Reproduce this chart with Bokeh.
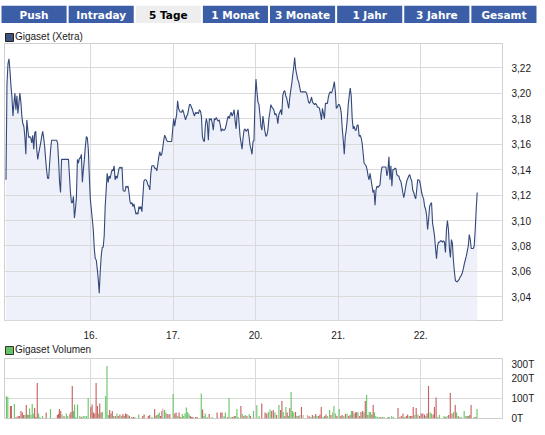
from bokeh.plotting import figure
from bokeh.models import (Range1d, FixedTicker, CustomJSTickFormatter, Legend,
                          LegendItem, ColumnDataSource, FactorRange)
from bokeh.layouts import column
from bokeh.embed import file_html
from bokeh.resources import INLINE
from bokeh.core.properties import value

# ---------------- data ----------------
tabs = ["Push", "Intraday", "5 Tage", "1 Monat", "3 Monate", "1 Jahr", "3 Jahre", "Gesamt"]
active_tab = "5 Tage"

day_ticks = [1, 2, 3, 4, 5]
day_labels = ["16.", "17.", "20.", "21.", "22."]
price_ticks = [3.04, 3.06, 3.08, 3.10, 3.12, 3.14, 3.16, 3.18, 3.20, 3.22]
vol_ticks = [0, 100, 200, 300]

price_name = "Gigaset (Xetra)"
vol_name = "Gigaset Volumen"

# price series on a regular intraday time grid (x in trading-day units)
t_start = -0.024
samples_per_day = 83.2
prices = [
    3.132, 3.207, 3.223, 3.227, 3.218, 3.206, 3.197, 3.182, 3.192, 3.200,
    3.187, 3.198, 3.184, 3.192, 3.200, 3.193, 3.182, 3.176, 3.174, 3.166,
    3.152, 3.179, 3.171, 3.165, 3.166, 3.165, 3.161, 3.167, 3.156, 3.169,
    3.170, 3.156, 3.148, 3.153, 3.157, 3.161, 3.166, 3.170, 3.165, 3.158,
    3.148, 3.139, 3.133, 3.133, 3.145, 3.156, 3.163, 3.163, 3.163, 3.163,
    3.163, 3.163, 3.161, 3.148, 3.130, 3.122, 3.148, 3.148, 3.148, 3.148,
    3.148, 3.148, 3.148, 3.148, 3.135, 3.122, 3.114, 3.114, 3.119, 3.102,
    3.109, 3.118, 3.148, 3.145, 3.149, 3.149, 3.152, 3.130, 3.140, 3.148,
    3.158, 3.166, 3.165, 3.156, 3.135, 3.117, 3.109, 3.101, 3.093, 3.078,
    3.070, 3.069, 3.062, 3.054, 3.043, 3.060, 3.072, 3.079, 3.079, 3.088,
    3.111, 3.124, 3.137, 3.130, 3.135, 3.133, 3.137, 3.140, 3.139, 3.143,
    3.132, 3.135, 3.133, 3.137, 3.141, 3.142, 3.141, 3.142, 3.124, 3.123,
    3.123, 3.127, 3.126, 3.127, 3.122, 3.115, 3.113, 3.114, 3.111, 3.113,
    3.109, 3.105, 3.106, 3.105, 3.111, 3.109, 3.111, 3.107, 3.119, 3.131,
    3.132, 3.132, 3.131, 3.128, 3.127, 3.124, 3.137, 3.143, 3.143, 3.143,
    3.141, 3.141, 3.139, 3.144, 3.150, 3.154, 3.151, 3.152, 3.157, 3.163,
    3.167, 3.165, 3.163, 3.162, 3.162, 3.162, 3.162, 3.162, 3.171, 3.180,
    3.174, 3.179, 3.183, 3.194, 3.188, 3.186, 3.185, 3.185, 3.187, 3.185,
    3.182, 3.179, 3.182, 3.183, 3.187, 3.191, 3.191, 3.189, 3.187, 3.184,
    3.182, 3.185, 3.184, 3.185, 3.184, 3.187, 3.186, 3.182, 3.166, 3.163,
    3.162, 3.175, 3.180, 3.176, 3.163, 3.180, 3.179, 3.180, 3.176, 3.171,
    3.180, 3.179, 3.181, 3.179, 3.178, 3.179, 3.175, 3.170, 3.172, 3.171,
    3.171, 3.172, 3.175, 3.179, 3.182, 3.180, 3.183, 3.185, 3.182, 3.184,
    3.187, 3.178, 3.172, 3.183, 3.187, 3.176, 3.166, 3.161, 3.156, 3.165,
    3.171, 3.172, 3.170, 3.171, 3.172, 3.166, 3.159, 3.156, 3.152, 3.162,
    3.163, 3.194, 3.211, 3.201, 3.193, 3.191, 3.183, 3.174, 3.171, 3.182,
    3.176, 3.170, 3.166, 3.167, 3.171, 3.180, 3.185, 3.191, 3.189, 3.188,
    3.187, 3.183, 3.184, 3.182, 3.176, 3.183, 3.185, 3.187, 3.183, 3.198,
    3.201, 3.202, 3.198, 3.196, 3.192, 3.188, 3.196, 3.202, 3.207, 3.214,
    3.220, 3.228, 3.219, 3.215, 3.211, 3.209, 3.205, 3.201, 3.201, 3.201,
    3.201, 3.201, 3.201, 3.200, 3.197, 3.193, 3.192, 3.194, 3.197, 3.193,
    3.192, 3.191, 3.192, 3.191, 3.189, 3.189, 3.188, 3.184, 3.179, 3.188,
    3.184, 3.180, 3.192, 3.192, 3.192, 3.197, 3.200, 3.201, 3.200, 3.202,
    3.205, 3.209, 3.201, 3.188, 3.189, 3.191, 3.191, 3.189, 3.184, 3.172,
    3.163, 3.152, 3.166, 3.171, 3.179, 3.191, 3.198, 3.204, 3.198, 3.180,
    3.172, 3.174, 3.171, 3.171, 3.175, 3.175, 3.166, 3.167, 3.165, 3.161,
    3.153, 3.145, 3.144, 3.143, 3.140, 3.135, 3.132, 3.137, 3.132, 3.127,
    3.122, 3.124, 3.112, 3.124, 3.127, 3.126, 3.127, 3.128, 3.137, 3.142,
    3.142, 3.142, 3.142, 3.142, 3.135, 3.139, 3.150, 3.132, 3.143, 3.127,
    3.140, 3.140, 3.141, 3.141, 3.136, 3.135, 3.135, 3.132, 3.131, 3.127,
    3.122, 3.118, 3.122, 3.127, 3.131, 3.133, 3.135, 3.136, 3.133, 3.131,
    3.124, 3.122, 3.119, 3.117, 3.124, 3.132, 3.132, 3.131, 3.127, 3.122,
    3.119, 3.117, 3.111, 3.109, 3.104, 3.093, 3.101, 3.111, 3.113, 3.114,
    3.098, 3.093, 3.088, 3.078, 3.070, 3.080, 3.083, 3.083, 3.084, 3.084,
    3.083, 3.084, 3.083, 3.075, 3.093, 3.100, 3.093, 3.078, 3.071, 3.085,
    3.082, 3.069, 3.060, 3.053, 3.052, 3.052, 3.053, 3.054, 3.056, 3.057,
    3.059, 3.062, 3.066, 3.069, 3.072, 3.076, 3.080, 3.089, 3.085, 3.078,
    3.078, 3.078, 3.080, 3.093, 3.109, 3.122,
]

# volume bars: time (trading-day units), volume (thousands), direction
vol_t = [
    -0.018, -0.002, 0.030, 0.042, 0.078, 0.098, 0.122, 0.138, 0.158, 0.174,
    0.190, 0.206, 0.222, 0.238, 0.254, 0.262, 0.278, 0.294, 0.306, 0.323,
    0.339, 0.355, 0.371, 0.387, 0.419, 0.463, 0.515, 0.599, 0.611, 0.623,
    0.639, 0.655, 0.679, 0.707, 0.723, 0.751, 0.763, 0.779, 0.795, 0.807,
    0.823, 0.843, 0.871, 0.891, 0.911, 0.931, 0.952, 0.972,
    1.004, 1.020, 1.036, 1.052, 1.068, 1.084, 1.100, 1.112, 1.128, 1.144,
    1.184, 1.200, 1.216, 1.232, 1.248, 1.264, 1.280, 1.300, 1.320, 1.336,
    1.356, 1.376, 1.392, 1.408, 1.424, 1.440, 1.456, 1.472, 1.500, 1.520,
    1.536, 1.584, 1.633, 1.649, 1.701, 1.717, 1.745, 1.777, 1.793, 1.805,
    1.821, 1.833, 1.849, 1.865, 1.877, 1.897, 1.913, 1.929, 1.945, 1.961,
    2.001, 2.021, 2.037, 2.057, 2.073, 2.093, 2.113, 2.129, 2.145, 2.161,
    2.177, 2.194, 2.210, 2.226, 2.242, 2.274, 2.290, 2.342, 2.358, 2.374,
    2.390, 2.414, 2.438, 2.474, 2.534, 2.578, 2.594, 2.618, 2.634, 2.662,
    2.678, 2.702, 2.722, 2.742, 2.758, 2.774, 2.790, 2.822, 2.838, 2.858,
    2.875, 2.895, 2.923, 2.939, 2.975,
    3.015, 3.043, 3.075, 3.115, 3.135, 3.155, 3.175, 3.195, 3.215, 3.235,
    3.255, 3.283, 3.303, 3.319, 3.335, 3.355, 3.367, 3.383, 3.399, 3.415,
    3.431, 3.447, 3.463, 3.484, 3.500, 3.516, 3.536, 3.556, 3.576, 3.628,
    3.648, 3.668, 3.688, 3.708, 3.728, 3.744, 3.764, 3.780, 3.796, 3.816,
    3.837, 3.853, 3.873, 3.897, 3.913, 3.933, 3.949, 3.969, 3.985,
    4.013, 4.033, 4.049, 4.069, 4.089, 4.109, 4.129, 4.145, 4.161, 4.177,
    4.193, 4.209, 4.225, 4.241, 4.261, 4.277, 4.297, 4.313, 4.329, 4.345,
    4.361, 4.377, 4.393, 4.409, 4.425, 4.441, 4.457, 4.477, 4.497, 4.517,
    4.537, 4.557, 4.605, 4.621, 4.649, 4.670, 4.726, 4.746, 4.766, 4.786,
    4.806, 4.826, 4.842, 4.862, 4.878, 4.894, 4.910, 4.930, 4.946, 4.966,
    4.986, 5.006, 5.026, 5.046, 5.062, 5.078, 5.095, 5.115, 5.131, 5.151,
    5.167, 5.187, 5.207, 5.227, 5.283, 5.299, 5.319, 5.339, 5.359, 5.379,
    5.399, 5.419, 5.435, 5.455, 5.475, 5.491, 5.527, 5.547, 5.563, 5.579,
    5.595, 5.611, 5.647, 5.667, 5.683,
]
vol_k = [
    112, 108, 62, 62, 72, 8, 12, 12, 37, 30,
    17, 17, 67, 20, 17, 50, 17, 72, 25, 53,
    8, 177, 25, 8, 12, 30, 47, 17, 22, 47,
    37, 20, 12, 25, 12, 22, 33, 162, 38, 70,
    8, 70, 12, 8, 12, 12, 12, 103,
    58, 70, 30, 25, 177, 63, 25, 75, 30, 33,
    112, 263, 17, 42, 25, 37, 13, 12, 25, 12,
    20, 13, 22, 12, 25, 22, 17, 12, 8, 8,
    8, 20, 12, 20, 12, 17, 8, 47, 13, 17,
    22, 30, 12, 37, 50, 42, 30, 22, 20, 22,
    122, 25, 30, 12, 30, 8, 22, 12, 25, 55,
    33, 22, 12, 8, 8, 8, 8, 125, 45, 13,
    25, 8, 22, 8, 30, 30, 30, 13, 30, 8,
    103, 8, 8, 12, 13, 47, 8, 62, 22, 13,
    17, 12, 22, 12, 37,
    67, 13, 75, 30, 25, 33, 45, 37, 42, 30,
    17, 67, 42, 87, 33, 13, 58, 30, 13, 53,
    133, 37, 30, 33, 12, 13, 17, 58, 17, 17,
    13, 8, 17, 12, 22, 13, 13, 20, 58, 8,
    13, 20, 13, 42, 17, 30, 63, 25, 13,
    47, 13, 17, 13, 22, 25, 13, 17, 37, 37,
    25, 30, 33, 30, 12, 33, 37, 30, 87, 117,
    17, 33, 33, 20, 67, 30, 12, 8, 8, 8,
    8, 8, 8, 8, 12, 8, 53, 8, 12, 25,
    8, 12, 20, 12, 13, 12, 58, 17, 53, 20,
    12, 25, 25, 20, 13, 25, 163, 30, 25, 20,
    58, 105, 8, 17, 12, 8, 12, 17, 128, 25,
    33, 67, 30, 12, 8, 8, 37, 13, 12, 13,
    17, 67, 8, 8, 47,
]
vol_dir = [
    "g", "g", "r", "r", "g", "r", "r", "r", "r", "r",
    "r", "g", "r", "g", "r", "g", "g", "g", "g", "r",
    "r", "r", "g", "g", "g", "r", "g", "r", "r", "r",
    "r", "g", "r", "g", "g", "r", "r", "r", "g", "g",
    "g", "g", "g", "r", "g", "g", "g", "g",
    "r", "r", "r", "r", "r", "r", "g", "r", "r", "g",
    "g", "g", "g", "r", "r", "r", "g", "r", "g", "r",
    "r", "g", "r", "r", "r", "r", "g", "r", "r", "r",
    "g", "g", "r", "r", "r", "r", "g", "r", "g", "r",
    "g", "g", "r", "r", "n", "g", "g", "r", "n", "r",
    "g", "r", "r", "g", "r", "r", "g", "g", "g", "g",
    "g", "g", "r", "r", "r", "r", "r", "g", "r", "g",
    "g", "g", "r", "g", "r", "r", "r", "g", "g", "r",
    "g", "g", "r", "r", "g", "g", "g", "r", "g", "r",
    "g", "r", "g", "r", "g",
    "g", "g", "r", "r", "r", "g", "g", "r", "r", "g",
    "r", "g", "r", "r", "g", "r", "g", "r", "g", "r",
    "g", "g", "g", "r", "g", "r", "g", "r", "n", "n",
    "r", "g", "r", "g", "r", "g", "r", "r", "r", "g",
    "r", "r", "g", "g", "r", "n", "g", "g", "r",
    "g", "r", "r", "g", "r", "g", "r", "r", "g", "r",
    "g", "r", "r", "g", "r", "r", "r", "g", "r", "g",
    "r", "g", "g", "r", "r", "g", "g", "g", "g", "r",
    "g", "g", "r", "g", "g", "g", "r", "g", "r", "r",
    "g", "r", "r", "g", "r", "r", "r", "g", "r", "g",
    "r", "r", "r", "r", "g", "r", "r", "g", "g", "r",
    "r", "r", "g", "g", "g", "r", "g", "r", "r", "r",
    "g", "r", "g", "r", "g", "g", "g", "g", "r", "g",
    "r", "r", "g", "r", "g",
]

# ---------------- style ----------------
W = 537
FONT = "Liberation Sans"
TAB_FONT = "DejaVu Sans"
TAB_BLUE = "#3b5ea6"
TAB_ACTIVE = "#eeeeee"
LINE_COL = "#34487a"
FILL_COL = "#eef1f9"
GRID_COL = "#dadada"
FRAME_COL = "#cfcfcf"
TEXT_COL = "#1a1a1a"
DIR_COL = {"g": "#6cc76c", "r": "#c86464", "n": "#d2aaaa"}

X_START, X_END = -0.042, 5.9916
Y_START, Y_END = 3.0215, 3.239
BL, BR = 4, 31   # left / right borders of the chart frames


def bare(fig):
    fig.axis.visible = False
    fig.grid.visible = False
    fig.outline_line_color = None


# ---------------- tabs ----------------
tf = figure(width=W, height=23, x_range=FactorRange(*tabs), y_range=Range1d(0, 1),
            x_axis_location=None, y_axis_location=None,
            toolbar_location=None, output_backend="svg",
            min_border_left=0, min_border_right=0, min_border_top=5, min_border_bottom=0)
bare(tf)
tab_src = ColumnDataSource(dict(
    tab=tabs,
    fill=[TAB_ACTIVE if t == active_tab else TAB_BLUE for t in tabs],
    tc=["#000000" if t == active_tab else "#ffffff" for t in tabs],
))
tf.rect(x="tab", y=0.5, width=0.97, height=1, fill_color="fill", line_color=None, source=tab_src)
tf.text(x="tab", y=0.5, text="tab", text_color="tc", text_align="center",
        text_baseline="middle", text_font=value(TAB_FONT), text_font_style="bold",
        text_font_size="10.5px", source=tab_src)


def header(label, fill, border, height, dy):
    """A thin strip above a chart holding its legend key."""
    h = figure(width=W, height=height, x_range=Range1d(0, 1), y_range=Range1d(0, 1),
               x_axis_location=None, y_axis_location=None,
               toolbar_location=None, output_backend="svg",
               min_border_left=BL, min_border_right=BR, min_border_top=0, min_border_bottom=0)
    bare(h)
    key = h.quad(left=[-2], right=[-1], top=[-1], bottom=[-2], fill_color=fill, line_color=border)
    lg = Legend(items=[LegendItem(label=label, renderers=[key])],
                location=(0, dy), orientation="horizontal",
                padding=0, margin=0, spacing=0, glyph_width=10, glyph_height=10,
                label_standoff=1, label_height=10, label_text_font=FONT,
                label_text_font_size="10px", label_text_color=TEXT_COL,
                label_text_baseline="middle",
                border_line_color=None, background_fill_alpha=0)
    h.add_layout(lg, "center")
    return h


def style_common(fig):
    fig.outline_line_color = FRAME_COL
    fig.outline_line_width = 1
    fig.grid.grid_line_color = GRID_COL
    fig.grid.grid_line_width = 1
    for ax in fig.yaxis:
        ax.axis_line_color = None
        ax.major_tick_line_color = None
        ax.minor_tick_line_color = None
        ax.major_label_text_font = FONT
        ax.major_label_text_font_size = "10px"
        ax.major_label_text_color = TEXT_COL
        ax.major_label_standoff = 3


# ---------------- price chart ----------------
ph = header(price_name, "#3f5282", "#222222", 20, 1)

times = [t_start + i / samples_per_day for i in range(len(prices))]
psrc = ColumnDataSource(dict(t=times, price=prices))

p = figure(width=W, height=298, x_range=Range1d(X_START, X_END),
           y_range=Range1d(Y_START, Y_END), y_axis_location="right",
           toolbar_location=None, output_backend="svg",
           min_border_left=BL, min_border_right=BR, min_border_top=0, min_border_bottom=19)
style_common(p)
p.xaxis.ticker = FixedTicker(ticks=day_ticks)
p.xaxis.major_label_overrides = dict(zip(day_ticks, day_labels))
p.xaxis.axis_line_color = None
p.xaxis.major_tick_line_color = None
p.xaxis.minor_tick_line_color = None
p.xaxis.major_label_text_font = FONT
p.xaxis.major_label_text_font_size = "10px"
p.xaxis.major_label_text_color = TEXT_COL
p.xaxis.major_label_standoff = 4
p.xgrid.ticker = FixedTicker(ticks=day_ticks)
p.yaxis.ticker = FixedTicker(ticks=price_ticks)
p.ygrid.ticker = FixedTicker(ticks=price_ticks)
p.yaxis.formatter = CustomJSTickFormatter(code="return tick.toFixed(2).replace('.', ',');")

area = p.varea(x="t", y1="price", y2=Y_START, fill_color=FILL_COL, source=psrc)
area.level = "image"
p.line(x="t", y="price", line_color=LINE_COL, line_width=1.1, source=psrc)

# ---------------- volume chart ----------------
vh = header(vol_name, "#66c266", "#333333", 17, 3)

vsrc = ColumnDataSource(dict(t=vol_t, vol=vol_k, col=[DIR_COL[d] for d in vol_dir]))
v = figure(width=W, height=69, x_range=p.x_range, y_range=Range1d(0, 300),
           y_axis_location="right", x_axis_location=None,
           toolbar_location=None, output_backend="svg",
           min_border_left=BL, min_border_right=BR, min_border_top=0, min_border_bottom=9)
style_common(v)
v.xgrid.ticker = FixedTicker(ticks=day_ticks)
v.yaxis.ticker = FixedTicker(ticks=vol_ticks)
v.ygrid.ticker = FixedTicker(ticks=vol_ticks)
v.yaxis.formatter = CustomJSTickFormatter(code="return tick + 'T';")
v.vbar(x="t", top="vol", bottom=0, width=0.014, fill_color="col", line_color=None, source=vsrc)

charts = column(ph, p, vh, v, spacing=0)
layout = column(tf, charts, spacing=0)
open("out.html", "w").write(file_html(layout, INLINE))
